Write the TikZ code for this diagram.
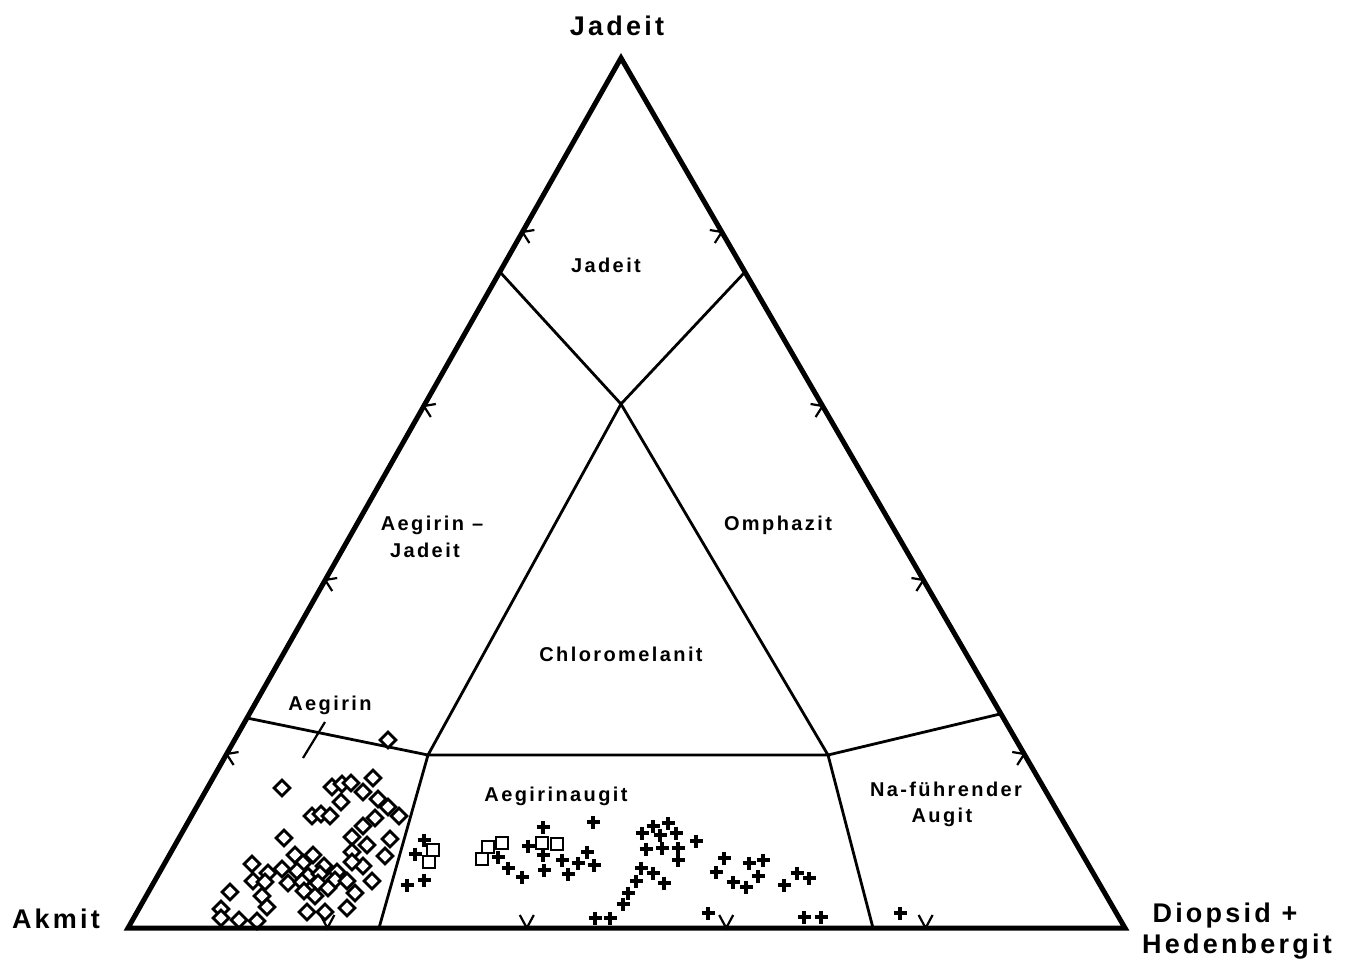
\documentclass[tikz,border=0pt]{standalone}
\usepackage{fontspec}
\usetikzlibrary{shapes.geometric,calc}
\newfontfamily\labfont{Liberation Sans Bold}[LetterSpace=12]
\newfontfamily\ttlfont{Liberation Sans Bold}[LetterSpace=12]
\begin{document}
\begin{tikzpicture}[x=1pt,y=-1pt,
  outer/.style={line width=5pt, line join=miter},
  inner/.style={line width=2.8pt},
  tickmark/.style={line width=2.2pt},
  lab/.style={font=\labfont\fontsize{20}{22}\selectfont, inner sep=0pt, anchor=base},
  ttl/.style={font=\ttlfont\fontsize{27}{30}\selectfont, inner sep=0pt, anchor=base},
  dia/.style={draw, line width=2.8pt, diamond, minimum size=17pt, inner sep=0pt, fill=white},
  sq/.style={draw, line width=2.4pt, rectangle, minimum size=12pt, inner sep=0pt, fill=white},
  pls/.style={line width=3.8pt}]
\useasboundingbox (0,0) rectangle (1357,959);
% corners and junctions
\coordinate (T) at (621,58);
\coordinate (A) at (128,928);
\coordinate (B) at (1125,928);
\coordinate (JL) at (500,272);
\coordinate (JR) at (745,272);
\coordinate (C) at (621,404);
\coordinate (L) at (428,755);
\coordinate (R) at (828,755);
\coordinate (AL) at (247,718);
\coordinate (AR) at (1000,714);
\coordinate (BL) at (379,928);
\coordinate (BR) at (873,928);
% inner field boundaries
\draw[inner] (JL) -- (C) -- (JR);
\draw[inner] (C) -- (L) -- (R) -- cycle;
\draw[inner] (AL) -- (L) -- (BL);
\draw[inner] (AR) -- (R) -- (BR);
% Aegirin pointer
\coordinate (P1) at (325,722);
\coordinate (P2) at (303,758);
\draw[line width=2.2pt] (P1) -- (P2);
% ticks
\foreach \f [count=\i] in {0.2,0.4,0.6,0.8}{
  \coordinate (tl\i) at ($(A)!\f!(T)$);
  \draw[tickmark] ($(tl\i)+(12,-2)$) -- (tl\i) -- ($(tl\i)+(7,11)$);
  \coordinate (tr\i) at ($(B)!\f!(T)$);
  \draw[tickmark] ($(tr\i)+(-12,-2)$) -- (tr\i) -- ($(tr\i)+(-7,11)$);
  \coordinate (tb\i) at ($(A)!\f!(B)$);
  \draw[tickmark] ($(tb\i)+(-7,-13)$) -- (tb\i) -- ($(tb\i)+(7,-13)$);
}
% diamonds (Aegirin field)
\foreach \x/\y [count=\i] in {388/740,282/788,332/787,342/784,351/783,373/778,363/792,341/802,378/799,388/807,399/816,312/816,321/814,330/816,375/818,363/826,284/838,352/837,390/839,367/845,352/852,385/856,295/855,313/855,252/864,303/863,324/866,363/866,268/873,282/869,297/871,308/876,320/874,337/872,352/862,253/881,265/882,288/883,302/882,318/883,335/880,347/881,372/881,230/892,262/896,304/891,315/896,328/888,355/893,267/907,347/908,307/912,325/912,221/909,221/918,239/920,257/921}
  \node[dia] (d\i) at (\x,\y) {};
% squares
\foreach \x/\y [count=\i] in {433/850,429/862,482/859,488/847,502/843,542/843,557/844}
  \node[sq] (s\i) at (\x,\y) {};
% plus signs
\foreach \x/\y [count=\i] in {424/840,415/854,407/885,424/880,498/857,508/868,522/877,543/827,528/846,543/855,544/870,562/860,568/874,578/863,587/852,594/865,593/822,595/918,610/918,623/904,628/893,636/881,641/868,653/873,664/883,642/833,653/826,668/823,660/835,676/833,646/849,662/848,678/848,678/860,696/841,724/858,716/872,733/882,746/887,749/863,763/860,758/876,784/885,797/873,809/878,708/913,804/917,821/917,900/913}{
  \coordinate (p\i) at (\x,\y);
  \draw[pls] ($(p\i)+(-6.5,0)$) -- ($(p\i)+(6.5,0)$) ($(p\i)+(0,-6.5)$) -- ($(p\i)+(0,6.5)$);
}
% outer triangle
\draw[outer] (T) -- (A) -- (B) -- cycle;
% labels
\node[ttl] (tJ) at (617,35) {Jadeit};
\node[ttl] (tA) at (56,928) {Akmit};
\node[ttl] (tD) at (1225,922) {Diopsid +};
\node[ttl] (tH) at (1237,953) {Hedenbergit};
\node[lab] (lJ) at (606,272) {Jadeit};
\node[lab] (lAJ1) at (432,530) {Aegirin –};
\node[lab] (lAJ2) at (425,557) {Jadeit};
\node[lab] (lO) at (778,530) {Omphazit};
\node[lab] (lC) at (621,661) {Chloromelanit};
\node[lab] (lA) at (330,710) {Aegirin};
\node[lab] (lAA) at (556,801) {Aegirinaugit};
\node[lab] (lN1) at (946,796) {Na-führender};
\node[lab] (lN2) at (942,822) {Augit};
\end{tikzpicture}
\end{document}
